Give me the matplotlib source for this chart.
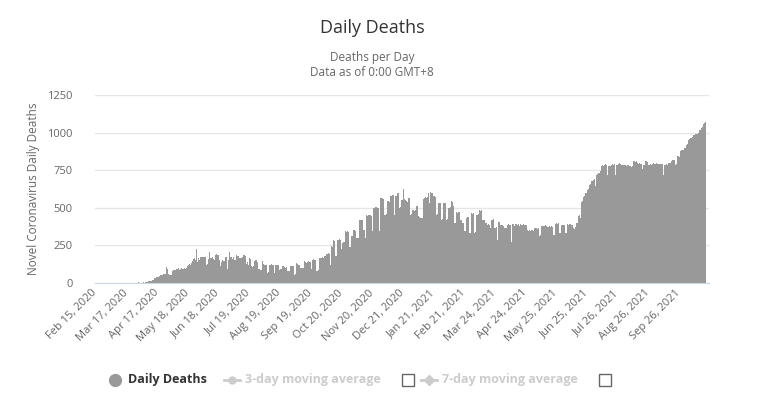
import numpy as np
import pandas as pd
import matplotlib
matplotlib.use('Agg')
import matplotlib.pyplot as plt
from matplotlib.lines import Line2D

plt.rcParams['font.family'] = ['Open Sans', 'DejaVu Sans']

# Daily deaths, one list per month (series starts Feb 15, 2020)
feb20 = [0, 0, 0, 0, 0, 0, 0, 0, 0, 0, 0, 0, 0, 0, 0]
mar20 = [0, 0, 0, 0, 0, 0, 0, 0, 0, 0, 0, 0, 0, 0, 0, 0, 0, 0,
         1, 0, 0, 0, 0, 0, 1, 1, 1, 0, 4, 1, 2]
apr20 = [2, 3, 4, 3, 5, 5, 6, 8, 10, 12, 13, 15, 18, 20, 35,
         36, 38, 40, 42, 48, 50, 55, 52, 58, 60, 62, 104, 90, 62, 52]
may20 = [55, 54, 82, 85, 88, 84, 90, 92, 98, 88, 95, 100, 96, 90, 99, 94,
         100, 112, 120, 128, 118, 130, 145, 160, 165, 150, 228, 140, 165, 150, 172]
jun20 = [173, 173, 175, 172, 176, 120, 125, 160, 208, 168, 165, 170, 160, 155, 185,
         190, 188, 185, 150, 112, 140, 150, 145, 148, 172, 175, 90, 150, 208, 175]
jul20 = [170, 160, 175, 150, 155, 188, 182, 178, 166, 165, 168, 170, 188, 185, 180, 125,
         140, 120, 166, 168, 160, 112, 108, 115, 145, 150, 155, 138, 90, 92, 88]
aug20 = [88, 145, 125, 122, 120, 118, 66, 70, 122, 120, 125, 118, 122, 66, 120, 122,
         118, 122, 88, 92, 90, 110, 112, 108, 100, 105, 78, 80, 78, 110, 112]
sep20 = [110, 112, 55, 58, 133, 125, 122, 120, 100, 98, 102, 100, 145, 140, 135,
         140, 145, 138, 142, 90, 155, 158, 155, 150, 80, 82, 85, 166, 168, 165]
oct20 = [170, 166, 182, 180, 195, 192, 198, 190, 120, 244, 240, 284, 280, 180, 182, 288,
         285, 290, 286, 226, 268, 270, 272, 343, 340, 345, 342, 240, 242, 238, 310]
nov20 = [315, 350, 352, 348, 300, 302, 298, 420, 418, 422, 420, 355, 352, 300, 450,
         448, 452, 450, 455, 448, 345, 500, 498, 502, 505, 500, 498, 345, 565, 562]
dec20 = [565, 560, 455, 452, 458, 543, 545, 540, 580, 578, 582, 585, 455, 580, 578, 600,
         598, 500, 502, 555, 552, 625, 556, 553, 543, 540, 565, 562, 455, 458, 485]
jan21 = [485, 482, 488, 510, 512, 443, 440, 432, 435, 430, 560, 562, 570, 568, 572, 600,
         532, 603, 600, 598, 576, 578, 574, 455, 458, 532, 530, 535, 421, 424, 532]
feb21 = [532, 530, 421, 424, 500, 498, 502, 543, 540, 514, 512, 400, 402, 470,
         468, 472, 470, 421, 422, 400, 402, 345, 348, 435, 438, 436, 333, 335]
mar21 = [465, 462, 468, 333, 336, 455, 452, 458, 483, 480, 485, 420, 418, 422, 400, 402,
         388, 390, 386, 365, 421, 419, 423, 366, 368, 370, 288, 403, 405, 388, 386]
apr21 = [388, 377, 366, 368, 365, 388, 390, 386, 388, 270, 395, 392, 380, 395, 390,
         385, 394, 382, 392, 388, 386, 390, 385, 388, 387, 350, 345, 355, 348, 352]
may21 = [352, 348, 366, 364, 368, 362, 366, 315, 318, 380, 382, 378, 380, 384, 378, 375,
         372, 376, 374, 378, 375, 320, 322, 395, 393, 396, 394, 397, 333, 335, 385]
jun21 = [386, 384, 388, 330, 332, 390, 388, 392, 390, 386, 388, 365, 360, 372, 398,
         402, 448, 452, 432, 540, 546, 572, 578, 599, 596, 618, 622, 652, 656, 676]
jul21 = [680, 687, 690, 647, 718, 722, 730, 732, 742, 778, 782, 780, 787, 789, 786, 720,
         776, 778, 775, 787, 789, 786, 790, 720, 787, 785, 794, 796, 792, 783, 785]
aug21 = [782, 785, 787, 780, 784, 786, 781, 776, 774, 777, 808, 810, 807, 809, 795, 790,
         798, 792, 794, 760, 787, 785, 808, 810, 806, 787, 786, 788, 785, 792, 795]
sep21 = [793, 790, 795, 791, 790, 792, 788, 790, 791, 789, 720, 787, 786, 788, 785,
         798, 796, 800, 812, 815, 818, 820, 787, 788, 842, 845, 840, 880, 882, 884]
oct21 = [887, 898, 900, 920, 922, 953, 955, 964, 966, 968, 985, 987, 990, 993, 992,
         995, 1015, 1018, 1031, 1036, 1060, 1064, 1069]

deaths = (feb20 + mar20 + apr20 + may20 + jun20 + jul20 + aug20 + sep20 + oct20 +
          nov20 + dec20 + jan21 + feb21 + mar21 + apr21 + may21 + jun21 + jul21 +
          aug21 + sep21 + oct21)
dates = pd.date_range('2020-02-15', periods=len(deaths), freq='D')

y_ticks = [0, 250, 500, 750, 1000, 1250]
tick_idx = list(range(0, len(deaths), 31))
tick_labels = [dates[i].strftime('%b %d, %Y') for i in tick_idx]

W, H = 771, 404
fig = plt.figure(figsize=(W / 100, H / 100), dpi=100)
ax = fig.add_axes([95 / W, 1 - 283 / H, 614 / W, 188 / H])

ax.bar(np.arange(len(deaths)), deaths, width=1.0, color='#999999', linewidth=0)
ax.set_xlim(-0.5, 619.5)
ax.set_ylim(0, 1250)
ax.set_yticks(y_ticks)
ax.yaxis.grid(True, color='#e6e6e6', linewidth=1)
ax.set_axisbelow(True)
for s in ['top', 'right', 'left']:
    ax.spines[s].set_visible(False)
ax.spines['bottom'].set_color('#ccd6eb')
ax.tick_params(axis='y', length=0, pad=16, labelcolor='#666666', labelsize=8)
ax.set_xticks(tick_idx)
ax.set_xticklabels(tick_labels, rotation=45, ha='right', va='center',
                   rotation_mode='anchor', fontsize=8, color='#666666')
ax.tick_params(axis='x', length=0, pad=6)

# titles
fig.text(372 / W, 1 - 28 / H, 'Daily Deaths', ha='center', va='center',
         fontsize=13, color='#333333')
fig.text(372 / W, 1 - 58 / H, 'Deaths per Day', ha='center', va='center',
         fontsize=8.5, color='#666666')
fig.text(372 / W, 1 - 72 / H, 'Data as of 0:00 GMT+8', ha='center', va='center',
         fontsize=8.5, color='#666666')
fig.text(34 / W, 1 - 189 / H, 'Novel Coronavirus Daily Deaths', rotation=90,
         ha='center', va='center', fontsize=8.5, color='#666666')

# legend drawn by hand
ly = 1 - 380 / H
fig.add_artist(Line2D([115 / W], [ly], marker='o', markersize=8.5, color='#999999',
                      linestyle='none', transform=fig.transFigure))
fig.text(128 / W, ly, 'Daily Deaths', ha='left', va='center', fontsize=9,
         fontweight='bold', color='#333333')
fig.add_artist(Line2D([224 / W, 240 / W], [ly, ly], color='#cccccc', linewidth=2,
                      transform=fig.transFigure))
fig.add_artist(Line2D([232 / W], [ly], marker='o', markersize=5, color='#cccccc',
                      transform=fig.transFigure))
fig.text(245 / W, ly, '3-day moving average', ha='left', va='center', fontsize=9,
         fontweight='bold', color='#cccccc')
fig.add_artist(Line2D([408 / W], [ly], marker='s', markersize=9, markerfacecolor='white',
                      markeredgecolor='#666666', markeredgewidth=1,
                      transform=fig.transFigure))
fig.add_artist(Line2D([421 / W, 437 / W], [ly, ly], color='#cccccc', linewidth=2,
                      transform=fig.transFigure))
fig.add_artist(Line2D([429 / W], [ly], marker='D', markersize=5, color='#cccccc',
                      transform=fig.transFigure))
fig.text(442 / W, ly, '7-day moving average', ha='left', va='center', fontsize=9,
         fontweight='bold', color='#cccccc')
fig.add_artist(Line2D([605 / W], [ly], marker='s', markersize=9, markerfacecolor='white',
                      markeredgecolor='#666666', markeredgewidth=1,
                      transform=fig.transFigure))

fig.savefig('out.png', dpi=100)
